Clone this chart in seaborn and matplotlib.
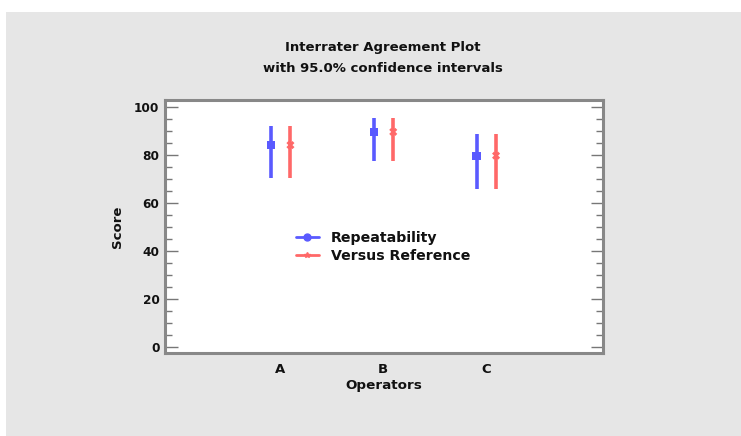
import numpy as np
import pandas as pd
import seaborn as sns
import matplotlib
matplotlib.use("Agg")
import matplotlib.pyplot as plt
from matplotlib.patches import Rectangle
from matplotlib.lines import Line2D
from matplotlib.ticker import MultipleLocator

# Operators and their agreement scores with 95% interval bounds
operators = ["A", "B", "C"]
repeat_score = [84.2, 89.7, 79.8]
repeat_low = [70.5, 77.6, 66.0]
repeat_high = [92.1, 95.7, 89.0]
ref_score = [84.2, 89.7, 79.8]
ref_low = [70.5, 77.6, 66.0]
ref_high = [92.1, 95.7, 89.0]
series_names = ["Repeatability", "Versus Reference"]

BLUE = "#5a5aff"
RED = "#ff6868"
TEXT = "#111111"

sns.set_theme(style="white")
plt.rcParams["font.family"] = ["DejaVu Sans"]
plt.rcParams["font.weight"] = "bold"
plt.rcParams["text.color"] = TEXT
plt.rcParams["axes.labelcolor"] = TEXT
plt.rcParams["xtick.color"] = TEXT
plt.rcParams["ytick.color"] = TEXT

fig = plt.figure(figsize=(7.41, 4.36), dpi=100, facecolor="white")
fig.patches.append(Rectangle((6 / 741, 0), 1, (436 - 12) / 436,
                             transform=fig.transFigure, facecolor="#e6e6e6",
                             edgecolor="none", zorder=-10))
ax = fig.add_axes([165 / 741, 83 / 436, 438 / 741, 253 / 436])
ax.set_facecolor("white")

rows = []
for i, op in enumerate(operators):
    rows.append(dict(pos=i - 0.09, op=op, series=series_names[0],
                     score=repeat_score[i], low=repeat_low[i], high=repeat_high[i]))
    rows.append(dict(pos=i + 0.10, op=op, series=series_names[1],
                     score=ref_score[i], low=ref_low[i], high=ref_high[i]))
df = pd.DataFrame(rows)

palette = {series_names[0]: BLUE, series_names[1]: RED}
markers = {series_names[0]: "s", series_names[1]: "X"}

for name, sub in df.groupby("series"):
    ax.vlines(sub["pos"], sub["low"], sub["high"], color=palette[name],
              lw=2.6, zorder=2)

sns.scatterplot(data=df, x="pos", y="score", hue="series", style="series",
                palette=palette, markers=markers, s=34, edgecolor="none",
                legend=False, ax=ax, zorder=3)

ax.set_xlim(-1.12, 3.14)
ax.set_ylim(-2.5, 103)
ax.set_xticks(range(len(operators)))
ax.set_xticklabels(operators, fontsize=9.5, fontweight="bold")
ax.yaxis.set_major_locator(MultipleLocator(20))
ax.yaxis.set_minor_locator(MultipleLocator(5))
ax.tick_params(axis="y", which="major", direction="in", length=9, width=1,
               color="#777777", labelcolor=TEXT, labelsize=8.7, right=True,
               left=True, pad=4)
ax.tick_params(axis="y", which="minor", direction="in", length=5, width=1,
               color="#777777", right=True, left=True)
ax.tick_params(axis="x", length=0, pad=7, labelcolor=TEXT)
for lbl in ax.get_yticklabels():
    lbl.set_fontweight("bold")

ax.set_xlabel("Operators", fontsize=9.7, fontweight="bold", labelpad=2)
ax.set_ylabel("Score", fontsize=9.5, fontweight="bold", labelpad=7)

for side, sp in ax.spines.items():
    sp.set_visible(True)
    sp.set_color("#888888")
    sp.set_linewidth(2.2)

fig.text(383 / 741, 1 - 48 / 436, "Interrater Agreement Plot", ha="center",
         va="center", fontsize=9.5, fontweight="bold")
fig.text(383 / 741, 1 - 68 / 436, "with 95.0% confidence intervals", ha="center",
         va="center", fontsize=9.5, fontweight="bold")

handles = [
    Line2D([], [], color=BLUE, lw=2, marker="o", markersize=5),
    Line2D([], [], color=RED, lw=2, marker="*", markersize=4),
]
ax.legend(handles, series_names, loc="center", bbox_to_anchor=(0.498, 0.419),
          frameon=False, handlelength=1.6, handletextpad=0.85, labelspacing=0.3,
          prop=dict(size=10.2, weight="bold"))

fig.savefig("out.png", dpi=100, facecolor=fig.get_facecolor())
